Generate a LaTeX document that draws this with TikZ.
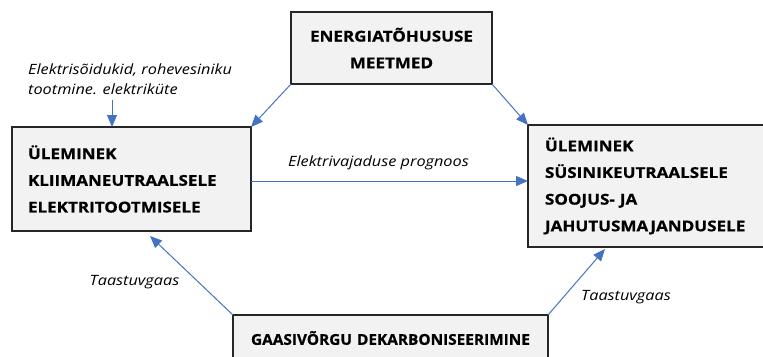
\documentclass[tikz,border=0pt]{standalone}
\usepackage{fontspec}
\setmainfont{Open Sans}
\newfontfamily\boxff[FakeStretch=1.14, BoldFeatures={FakeBold=0.6}]{Open Sans}
\newfontfamily\boxffb[FakeStretch=1.03, BoldFeatures={FakeBold=0.6}]{Open Sans}
\newfontfamily\labff[FakeStretch=1.15]{Open Sans}
\usetikzlibrary{arrows.meta}
\definecolor{arrowblue}{HTML}{4472C4}
\definecolor{boxfill}{HTML}{F2F2F2}
\newcommand\myboxfont{\boxff\fontsize{15}{26.8}\selectfont\bfseries}
\newcommand\myboxfontb{\boxffb\fontsize{15}{26.8}\selectfont\bfseries}
\newcommand\mylabfont{\labff\fontsize{14.2}{20.5}\selectfont\itshape}
\begin{document}
\begin{tikzpicture}[x=1bp,y=-1bp,
  box/.style={draw=black!85, line width=1.1bp, fill=boxfill, inner ysep=0pt, outer sep=0pt, font=\myboxfont},
  conn/.style={draw=arrowblue, line width=1bp, -{Triangle[length=12bp,width=10bp]}},
  lab/.style={font=\mylabfont, inner sep=0pt}]
\useasboundingbox (0,0) rectangle (763,356);
\clip (0,0) rectangle (763,356);
% boxes
\node[box, anchor=north west, inner xsep=0pt, text width=201bp, minimum height=72bp, align=center] (T) at (291,12) {ENERGIATÕHUSUSE\\MEETMED};
\node[box, anchor=north west, inner xsep=16bp, text width=207bp, minimum height=104bp, align=left] (L) at (12,127) {ÜLEMINEK\\KLIIMANEUTRAALSELE\\ELEKTRITOOTMISELE};
\node[box, anchor=north west, inner xsep=17bp, text width=213bp, minimum height=122bp, align=left] (R) at (528,125) {ÜLEMINEK\\SÜSINIKEUTRAALSELE\\SOOJUS- JA\\JAHUTUSMAJANDUSELE};
\node[box, font=\myboxfontb, anchor=north west, inner xsep=0pt, text width=315bp, minimum height=46bp, align=center] (B) at (233,315) {GAASIVÕRGU DEKARBONISEERIMINE};
% labels
\node[lab, anchor=west, align=left] (E) at (28,79) {Elektrisõidukid, rohevesiniku\\tootmine. elektriküte};
\node[lab] (P) at (378.5,163) {Elektrivajaduse prognoos};
\node[lab] (G1) at (134.5,282) {Taastuvgaas};
\node[lab] (G2) at (626,297) {Taastuvgaas};
% connector end points
\coordinate (e1) at (112,100);
\coordinate (lt) at (150,236);
\coordinate (rt) at (605,249);
\coordinate (hl) at (251,181);
% connectors
\draw[conn] (T.south west) -- (L.north east);
\draw[conn] (T.south east) -- (R.north west);
\draw[conn] (hl) -- (hl -| R.west);
\draw[conn] (e1) -- (e1 |- L.north);
\draw[conn] (B.north west) -- (lt);
\draw[conn] (B.north east) -- (rt);
\end{tikzpicture}
\end{document}
